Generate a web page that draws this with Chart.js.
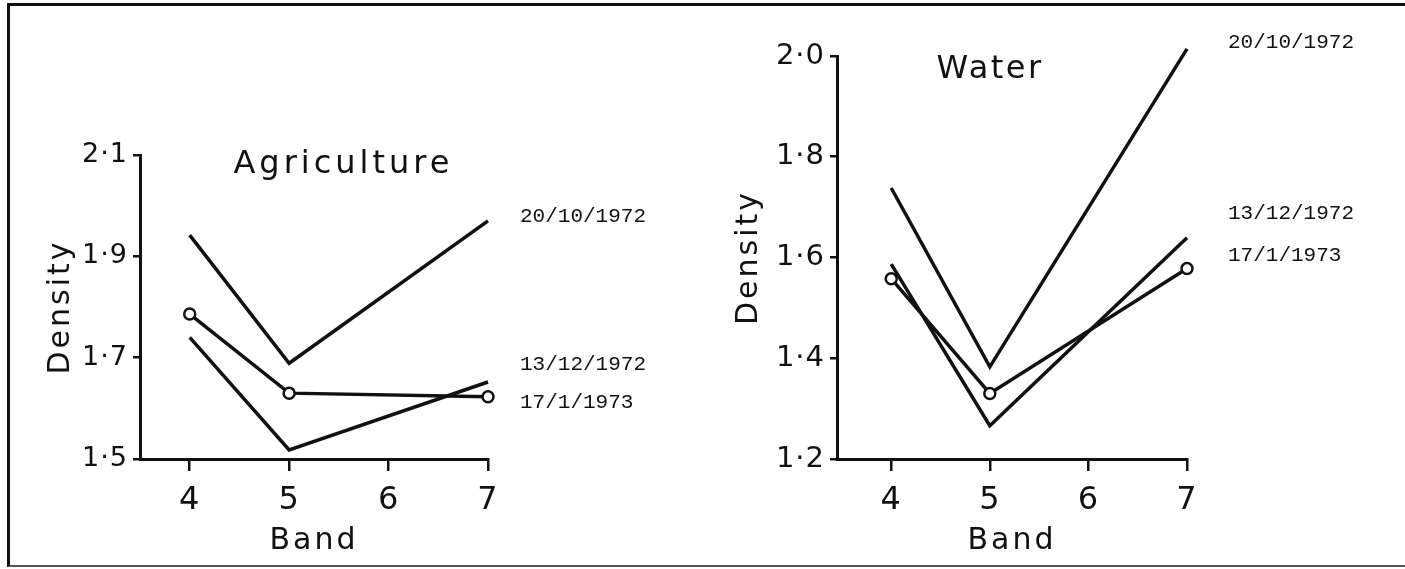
<!DOCTYPE html>
<html>
<head>
<meta charset="utf-8">
<script src="https://cdn.jsdelivr.net/npm/chart.js@4.4.0/dist/chart.umd.min.js"></script>
<style>
html, body { margin: 0; padding: 0; background: #fff; }
#frame {
  position: absolute; left: 7px; top: 3px; width: 1398px; height: 564px;
  box-sizing: border-box;
  border-top: 3px solid #111; border-left: 3px solid #111; border-bottom: 2px solid #555;
}
.panel { position: absolute; top: 0; }
</style>
</head>
<body>
<div id="frame"></div>
<div class="panel" style="left:0px"><canvas id="agri" width="700" height="569"></canvas></div>
<div class="panel" style="left:700px"><canvas id="water" width="705" height="569"></canvas></div>
<script>
// bands on the x axis and the three dates
const bands = [4, 5, 7];
const bandTicks = [4, 5, 6, 7];
const seriesNames = ['20/10/1972', '13/12/1972', '17/1/1973'];

// Agriculture densities
const agri2010 = [1.942, 1.689, 1.970];
const agri1312 = [1.740, 1.518, 1.652];
const agri1701 = [1.786, 1.630, 1.623];
const agriTicks = [1.5, 1.7, 1.9, 2.1];

// Water densities
const water2010 = [1.738, 1.383, 2.014];
const water1312 = [1.587, 1.266, 1.639];
const water1701 = [1.558, 1.330, 1.578];
const waterTicks = [1.2, 1.4, 1.6, 1.8, 2.0];

Chart.defaults.font.family = "'DejaVu Sans', sans-serif";
Chart.defaults.color = '#111';

const ink = '#111';

// letter spacing: axis titles are drawn before the datasets, tick labels after (ticks.z = 1)
// then the panel title and the date labels beside the lines
const panelText = {
  id: 'panelText',
  beforeDraw(chart) {
    chart.ctx.letterSpacing = '3px';
  },
  afterDatasetsDraw(chart) {
    chart.ctx.letterSpacing = '1px';
  },
  afterDraw(chart, args, o) {
    const ctx = chart.ctx;
    const x = chart.scales.x, y = chart.scales.y;
    ctx.save();
    ctx.fillStyle = ink;
    ctx.textAlign = 'left';
    ctx.textBaseline = 'middle';
    ctx.font = "32px 'DejaVu Sans'";
    ctx.letterSpacing = o.titleSpacing + 'px';
    ctx.fillText(o.title, x.getPixelForValue(o.titleAt[0]), y.getPixelForValue(o.titleAt[1]));
    ctx.font = "21px 'Liberation Mono'";
    ctx.letterSpacing = '0px';
    seriesNames.forEach((name, i) => {
      ctx.fillText(name, x.right + o.dateGap, y.getPixelForValue(o.dateAt[i]));
    });
    ctx.restore();
  }
};

function makePanel(id, p) {
  const sets = seriesNames.map((name, i) => ({
    label: name,
    data: bands.map((b, j) => ({ x: b, y: p.series[i][j] })),
    borderColor: ink,
    borderWidth: 3.5,
    pointRadius: i === 2 ? 5.5 : 0,
    pointBackgroundColor: '#fff',
    pointBorderColor: ink,
    pointBorderWidth: 2.5,
    tension: 0,
    clip: false
  }));

  return new Chart(document.getElementById(id), {
    type: 'line',
    data: { datasets: sets },
    options: {
      responsive: false,
      animation: false,
      events: [],
      layout: { padding: { left: 0, top: p.top, right: p.right, bottom: 0 } },
      plugins: {
        legend: { display: false },
        tooltip: { enabled: false },
        panelText: {
          title: p.title, titleAt: p.titleAt, titleSpacing: p.titleSpacing,
          dateAt: p.dateAt, dateGap: p.dateGap
        }
      },
      scales: {
        x: {
          type: 'linear',
          min: p.xMin,
          max: 7,
          afterFit: s => { s.height = 110; },
          afterBuildTicks: s => { s.ticks = bandTicks.map(v => ({ value: v })); },
          grid: { drawOnChartArea: false, drawTicks: true, tickLength: 12, color: ink, lineWidth: 2.5 },
          border: { display: true, color: ink, width: 3 },
          ticks: { font: { size: 32 }, color: ink, padding: 10, z: 1, callback: v => String(v) },
          title: { display: true, text: 'Band', font: { size: 30 }, color: ink, padding: { top: 0, bottom: 10 } }
        },
        y: {
          type: 'linear',
          min: p.yTicks[0],
          max: p.yTicks[p.yTicks.length - 1],
          afterFit: s => { s.width = p.axisW; },
          afterBuildTicks: s => { s.ticks = p.yTicks.map(v => ({ value: v })); },
          grid: { drawOnChartArea: false, drawTicks: true, tickLength: 7, color: ink, lineWidth: 2.5 },
          border: { display: true, color: ink, width: 3 },
          ticks: { font: { size: p.yFont }, color: ink, padding: 5, z: 1, callback: v => v.toFixed(1).replace('.', '·') },
          title: { display: true, text: 'Density', font: { size: 30 }, color: ink, padding: { top: p.titlePad, bottom: 0 } }
        }
      }
    },
    plugins: [panelText]
  });
}

makePanel('agri', {
  series: [agri2010, agri1312, agri1701],
  yTicks: agriTicks,
  xMin: 3.5,
  top: 155, right: 212, axisW: 140, titlePad: 43, yFont: 27,
  title: 'Agriculture', titleAt: [4.44, 2.08], titleSpacing: 4,
  dateAt: [1.978, 1.686, 1.611], dateGap: 32
});

makePanel('water', {
  series: [water2010, water1312, water1701],
  yTicks: waterTicks,
  xMin: 3.45,
  top: 56, right: 218, axisW: 137, titlePad: 31, yFont: 29,
  title: 'Water', titleAt: [4.46, 1.972], titleSpacing: 2.5,
  dateAt: [2.026, 1.688, 1.605], dateGap: 41
});
</script>
</body>
</html>
